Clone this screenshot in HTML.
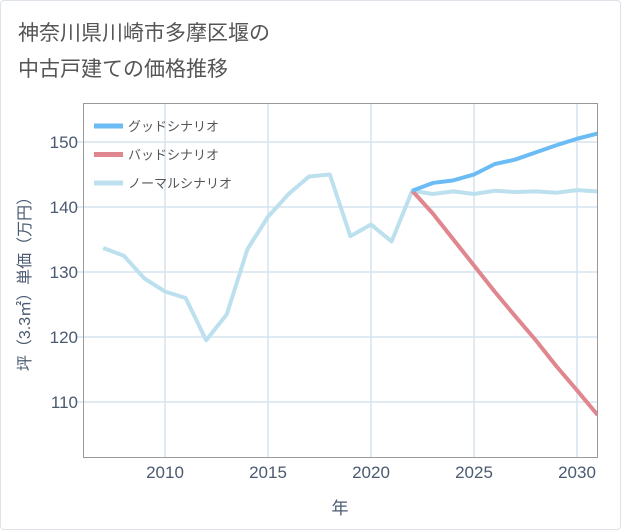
<!DOCTYPE html>
<html><head><meta charset="utf-8"><style>
body{margin:0;background:#fff;font-family:"Liberation Sans","Noto Sans CJK JP",sans-serif}
#c{position:absolute;left:0;top:0;width:619px;height:528px;border:1px solid #dde3e8;border-radius:4px}
</style></head><body>
<div id="c"></div>
<svg id="s" width="621" height="530" style="position:absolute;left:0;top:0">
<text x="18" y="40" font-size="21" fill="#555">神奈川県川崎市多摩区堰の</text>
<text x="18" y="76" font-size="21" fill="#555">中古戸建ての価格推移</text>
<g id="grid"></g>
<rect x="83.5" y="103.5" width="514" height="354" fill="none" stroke="#999"/>
<g id="series"></g>
<g id="axes" font-size="17" fill="#4a5a70"></g>
<text x="340" y="514" font-size="17" fill="#4a5a70" text-anchor="middle">年</text>
<text transform="translate(30,280) rotate(-90)" font-size="16" fill="#4a5a70" text-anchor="middle">坪（3.3㎡）単価（万円）</text>
<g id="legend" font-size="13" fill="#555"></g>
</svg>
<script>
const years=[2007,2008,2009,2010,2011,2012,2013,2014,2015,2016,2017,2018,2019,2020,2021,2022,2023,2024,2025,2026,2027,2028,2029,2030,2031];
const normal=[133.7,132.5,129,127,126,119.5,123.5,133.5,138.5,142,144.7,145,135.5,137.3,134.7,142.5,142,142.4,142,142.5,142.3,142.4,142.2,142.6,142.4];
const futureYears=[2022,2023,2024,2025,2026,2027,2028,2029,2030,2031];
const good=[142.5,143.7,144.1,145,146.6,147.3,148.4,149.5,150.5,151.3];
const bad=[142.5,139,135,131,127,123.2,119.5,115.5,111.8,108];
const xTicks=[2010,2015,2020,2025,2030];
const yTicks=[110,120,130,140,150];
const x=v=>165+(v-2010)*20.6;
const y=v=>142-(v-150)*6.5;
const NS="http://www.w3.org/2000/svg";
function mk(tag,attrs,parent){const e=document.createElementNS(NS,tag);for(const k in attrs)e.setAttribute(k,attrs[k]);document.getElementById(parent).appendChild(e);return e;}
xTicks.forEach(t=>{
 const l=mk('line',{x1:x(t),x2:x(t),y1:104,y2:457,stroke:'#d5e3ee','stroke-width':1.5},'grid');
 
 
 const tx=mk('text',{x:x(t),y:478,'text-anchor':'middle'},'axes');tx.textContent=t;
 
 
});
yTicks.forEach(t=>{
 const l=mk('line',{x1:76,x2:597,y1:y(t),y2:y(t),stroke:'#d5e3ee','stroke-width':1.5},'grid');
 
 
 const tx=mk('text',{x:78,y:y(t)+6,'text-anchor':'end'},'axes');tx.textContent=t;
 
 
});
function line(xs,vs,color,name){
 const p=mk('polyline',{points:xs.map((v,i)=>x(v)+','+y(vs[i])).join(' '),fill:'none',stroke:color,'stroke-width':4,'stroke-linejoin':'round'},'series');
 
 
}
const cp=mk('clipPath',{id:'cl'},'series');const r=document.createElementNS(NS,'rect');r.setAttribute('x',84);r.setAttribute('y',104);r.setAttribute('width',513);r.setAttribute('height',353);cp.appendChild(r);
document.getElementById('series').setAttribute('clip-path','url(#cl)');
line(years,normal,'#bde0ee','normal-line');
line(futureYears,bad,'#e0868e','bad-line');
line(futureYears,good,'#6bbcf5','good-line');
[['グッドシナリオ','#6bbcf5','legend-good'],['バッドシナリオ','#e0868e','legend-bad'],['ノーマルシナリオ','#bde0ee','legend-normal']].forEach((d,i)=>{
 const yy=126+i*28.5;
 const l=mk('line',{x1:94,x2:123,y1:yy,y2:yy,stroke:d[1],'stroke-width':5},'legend');
 
 
 const t=mk('text',{x:128,y:yy+5},'legend');t.textContent=d[0];
 
 
});
</script>
</body></html>
